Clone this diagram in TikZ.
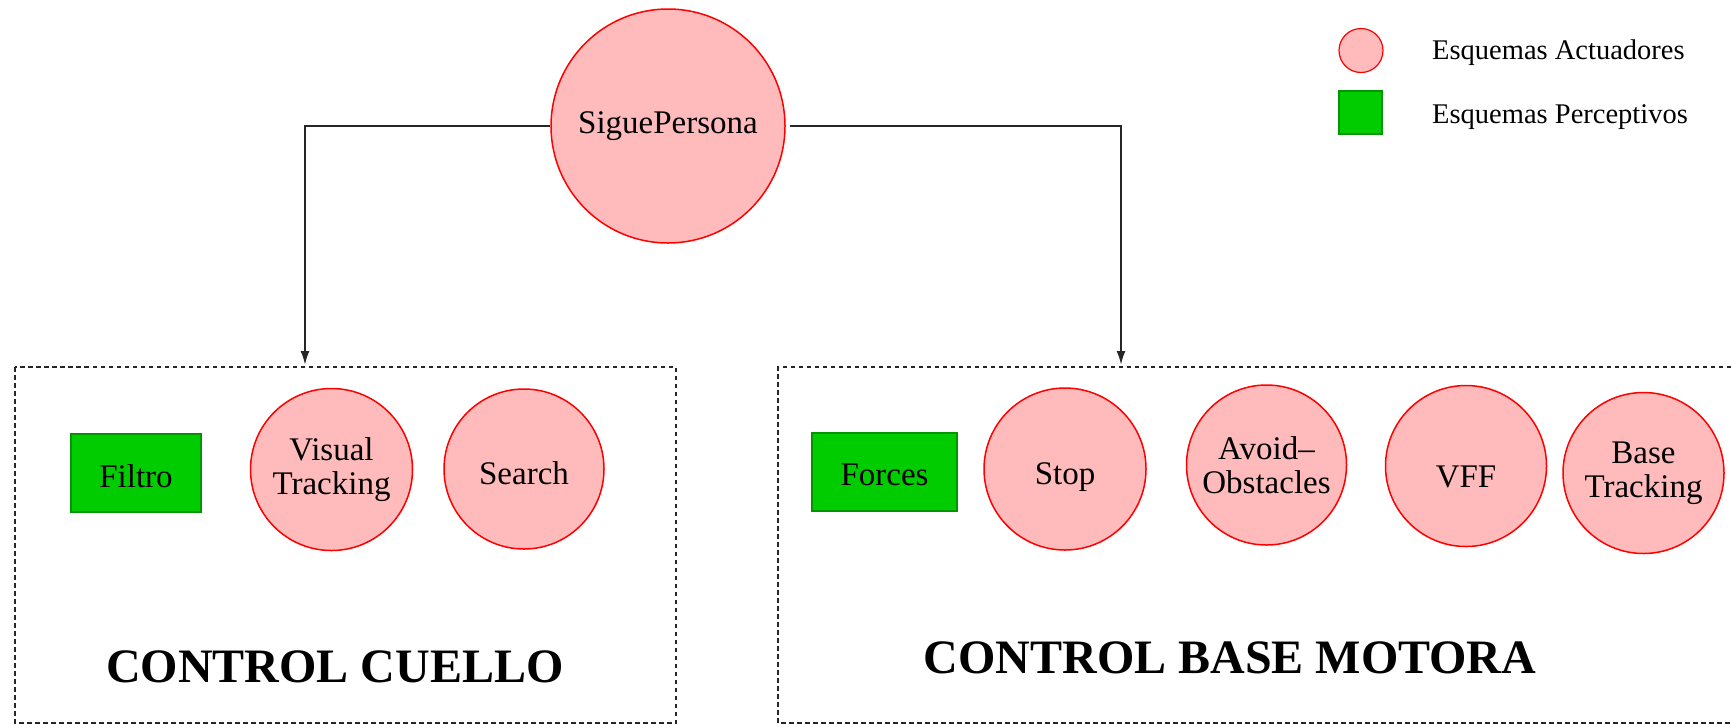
\documentclass[tikz,border=0pt]{standalone}
\usepackage{fontspec}
\setmainfont{Liberation Serif}
\usetikzlibrary{arrows.meta}

\definecolor{actfill}{RGB}{255,187,187}
\definecolor{actline}{RGB}{255,0,0}
\definecolor{perfill}{RGB}{0,204,0}
\definecolor{perline}{RGB}{0,150,0}

\newcommand\lblfont{\fontsize{33}{34}\selectfont}
\newcommand\leyfont{\fontsize{28.5}{30}\selectfont}
\newcommand\titfont{\fontsize{48}{50}\selectfont\bfseries}
% lowers a label a little inside its shape, keeping the box size
\newcommand\bajar[2]{\raisebox{-#1}[\height][\depth]{#2}}

\begin{document}
\begin{tikzpicture}[x=1pt,y=-1pt,
  actuador/.style={circle, fill=actfill, draw=actline, line width=1.5pt,
    inner sep=0pt, minimum size=#1, align=center, font=\lblfont},
  actuador/.default=161pt,
  perceptivo/.style={rectangle, fill=perfill, draw=perline, line width=1.5pt,
    inner sep=0pt, align=center, font=\lblfont},
  conector/.style={draw=black!85, line width=2pt,
    -{Latex[length=14pt,width=9pt]}},
  marco/.style={draw=black!85, line width=1.5pt, dash pattern=on 4.5pt off 3.5pt},
  titulo/.style={font=\titfont, inner sep=0pt},
  leyenda/.style={font=\leyfont, inner sep=0pt, anchor=base west}]

% page
\fill[white] (0,0) rectangle (1731,724);
\useasboundingbox (0,0) rectangle (1731,724);

% group frames
\draw[marco] (15,367) rectangle (676,723);
\draw[marco] (1731,367) -- (778,367) -- (778,723) -- (1731,723);

% top-level schema
\node[actuador=234pt] (sp) at (668,126) {SiguePersona};

% neck control
\node[perceptivo, minimum width=130pt, minimum height=78pt] (filtro) at (136,473) {\bajar{3pt}{Filtro}};
\node[actuador=162pt] (visual) at (331.5,469.5) {Visual\\Tracking};
\node[actuador=160pt] (search) at (524,469) {\bajar{4pt}{Search}};
\node[titulo, anchor=base] (tcuello) at (335,682) {CONTROL CUELLO};

% motor base control
\node[perceptivo, minimum width=145pt, minimum height=78pt] (forces) at (884.5,472) {\bajar{3pt}{Forces}};
\node[actuador=162pt] (stop) at (1065,469) {\bajar{8pt}{Stop}};
\node[actuador=160pt] (avoid) at (1266.5,465) {Avoid--\\Obstacles};
\node[actuador=161pt] (vff) at (1466,466) {\bajar{11pt}{VFF}};
\node[actuador=161pt] (btrack) at (1643.5,473) {Base\\Tracking};
\node[titulo, anchor=base] (tbase) at (1230,673) {CONTROL BASE MOTORA};

% connectors into the frames
\coordinate (cuelloin) at (305,365);
\coordinate (basein) at (1121,365);
\draw[conector] (sp.west) -| (cuelloin);
\draw[conector, shorten <=4pt] (sp.east) -| (basein);

% legend
\node[actuador=44pt, line width=1.2pt] (leyact) at (1361,50.5) {};
\node[perceptivo, minimum width=43pt, minimum height=43pt, line width=1.2pt] (leyper) at (1360.5,112.5) {};
\node[leyenda] (tact) at (1432,59) {Esquemas Actuadores};
\node[leyenda] (tper) at (1432,123) {Esquemas Perceptivos};
\end{tikzpicture}
\end{document}
